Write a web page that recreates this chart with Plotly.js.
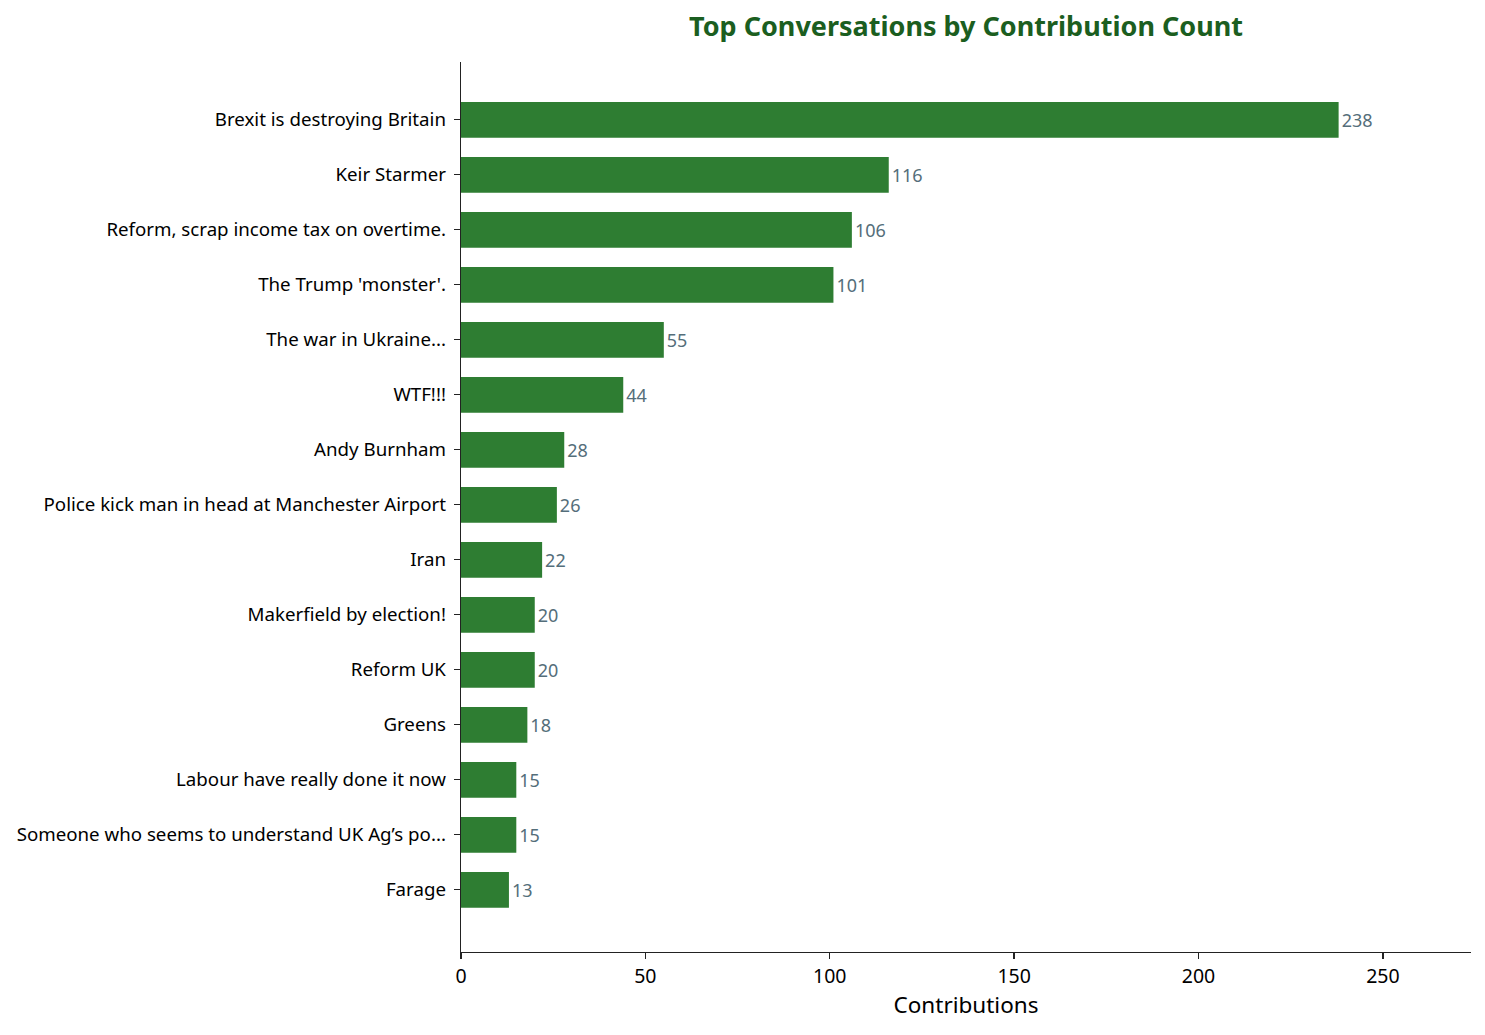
<!DOCTYPE html>
<html>
<head>
<meta charset="utf-8">
<script src="https://cdn.plot.ly/plotly-3.0.1.min.js"></script>
<style>
  body { margin: 0; background: #fff; }
  #chart { width: 1485px; height: 1035px; }
</style>
</head>
<body>
<div id="chart"></div>
<script>
// conversations, top first
var topics = [
  'Brexit is destroying Britain',
  'Keir Starmer',
  'Reform, scrap income tax on overtime.',
  "The Trump 'monster'.",
  'The war in Ukraine...',
  'WTF!!!',
  'Andy Burnham',
  'Police kick man in head at Manchester Airport',
  'Iran',
  'Makerfield by election!',
  'Reform UK',
  'Greens',
  'Labour have really done it now',
  'Someone who seems to understand UK Ag\u2019s po...',
  'Farage'
];
var contributions = [238, 116, 106, 101, 55, 44, 28, 26, 22, 20, 20, 18, 15, 15, 13];
var xTicks = [0, 50, 100, 150, 200, 250];

var data = [
  {
    type: 'bar',
    orientation: 'h',
    y: topics,
    x: contributions,
    width: 0.65,
    marker: { color: '#2e7d32' },          // green bars
    text: contributions.map(String),
    textposition: 'outside',
    constraintext: 'none',
    cliponaxis: false,
    outsidetextfont: { family: 'Noto Sans', size: 18, color: '#546e7a' },
    hoverinfo: 'none'
  }
];

var layout = {
  width: 1485,
  height: 1035,
  showlegend: false,
  paper_bgcolor: '#fff',
  plot_bgcolor: '#fff',
  font: { family: 'Noto Sans', size: 19, color: '#000' },
  margin: { l: 461, r: 14, t: 62, b: 83 },
  title: {
    text: '<b>Top Conversations by Contribution Count</b>',
    font: { family: 'Noto Sans', size: 27, color: '#1b5e20' },
    x: 0.5, xref: 'paper',
    y: 1 - 27 / 1035, yref: 'container', yanchor: 'middle'
  },
  xaxis: {
    range: [0, 273.9],
    tickvals: xTicks,
    ticks: 'outside', ticklen: 6, tickcolor: '#222', tickwidth: 1.3,
    showgrid: false, zeroline: false,
    showline: true, linecolor: '#222', linewidth: 1.3,
    tickfont: { size: 19.5 },
    title: { text: 'Contributions', font: { size: 22.5 }, standoff: 8 }
  },
  yaxis: {
    type: 'category',
    range: [15.13, -1.05],                 // top item first
    ticks: 'outside', ticklen: 6, tickcolor: '#222', tickwidth: 1.3,
    ticklabelstandoff: 4,
    showgrid: false, zeroline: false,
    showline: true, linecolor: '#222', linewidth: 1.3,
    tickfont: { size: 18.7 },
    automargin: false
  }
};

Plotly.newPlot('chart', data, layout, { staticPlot: true });
</script>
</body>
</html>
